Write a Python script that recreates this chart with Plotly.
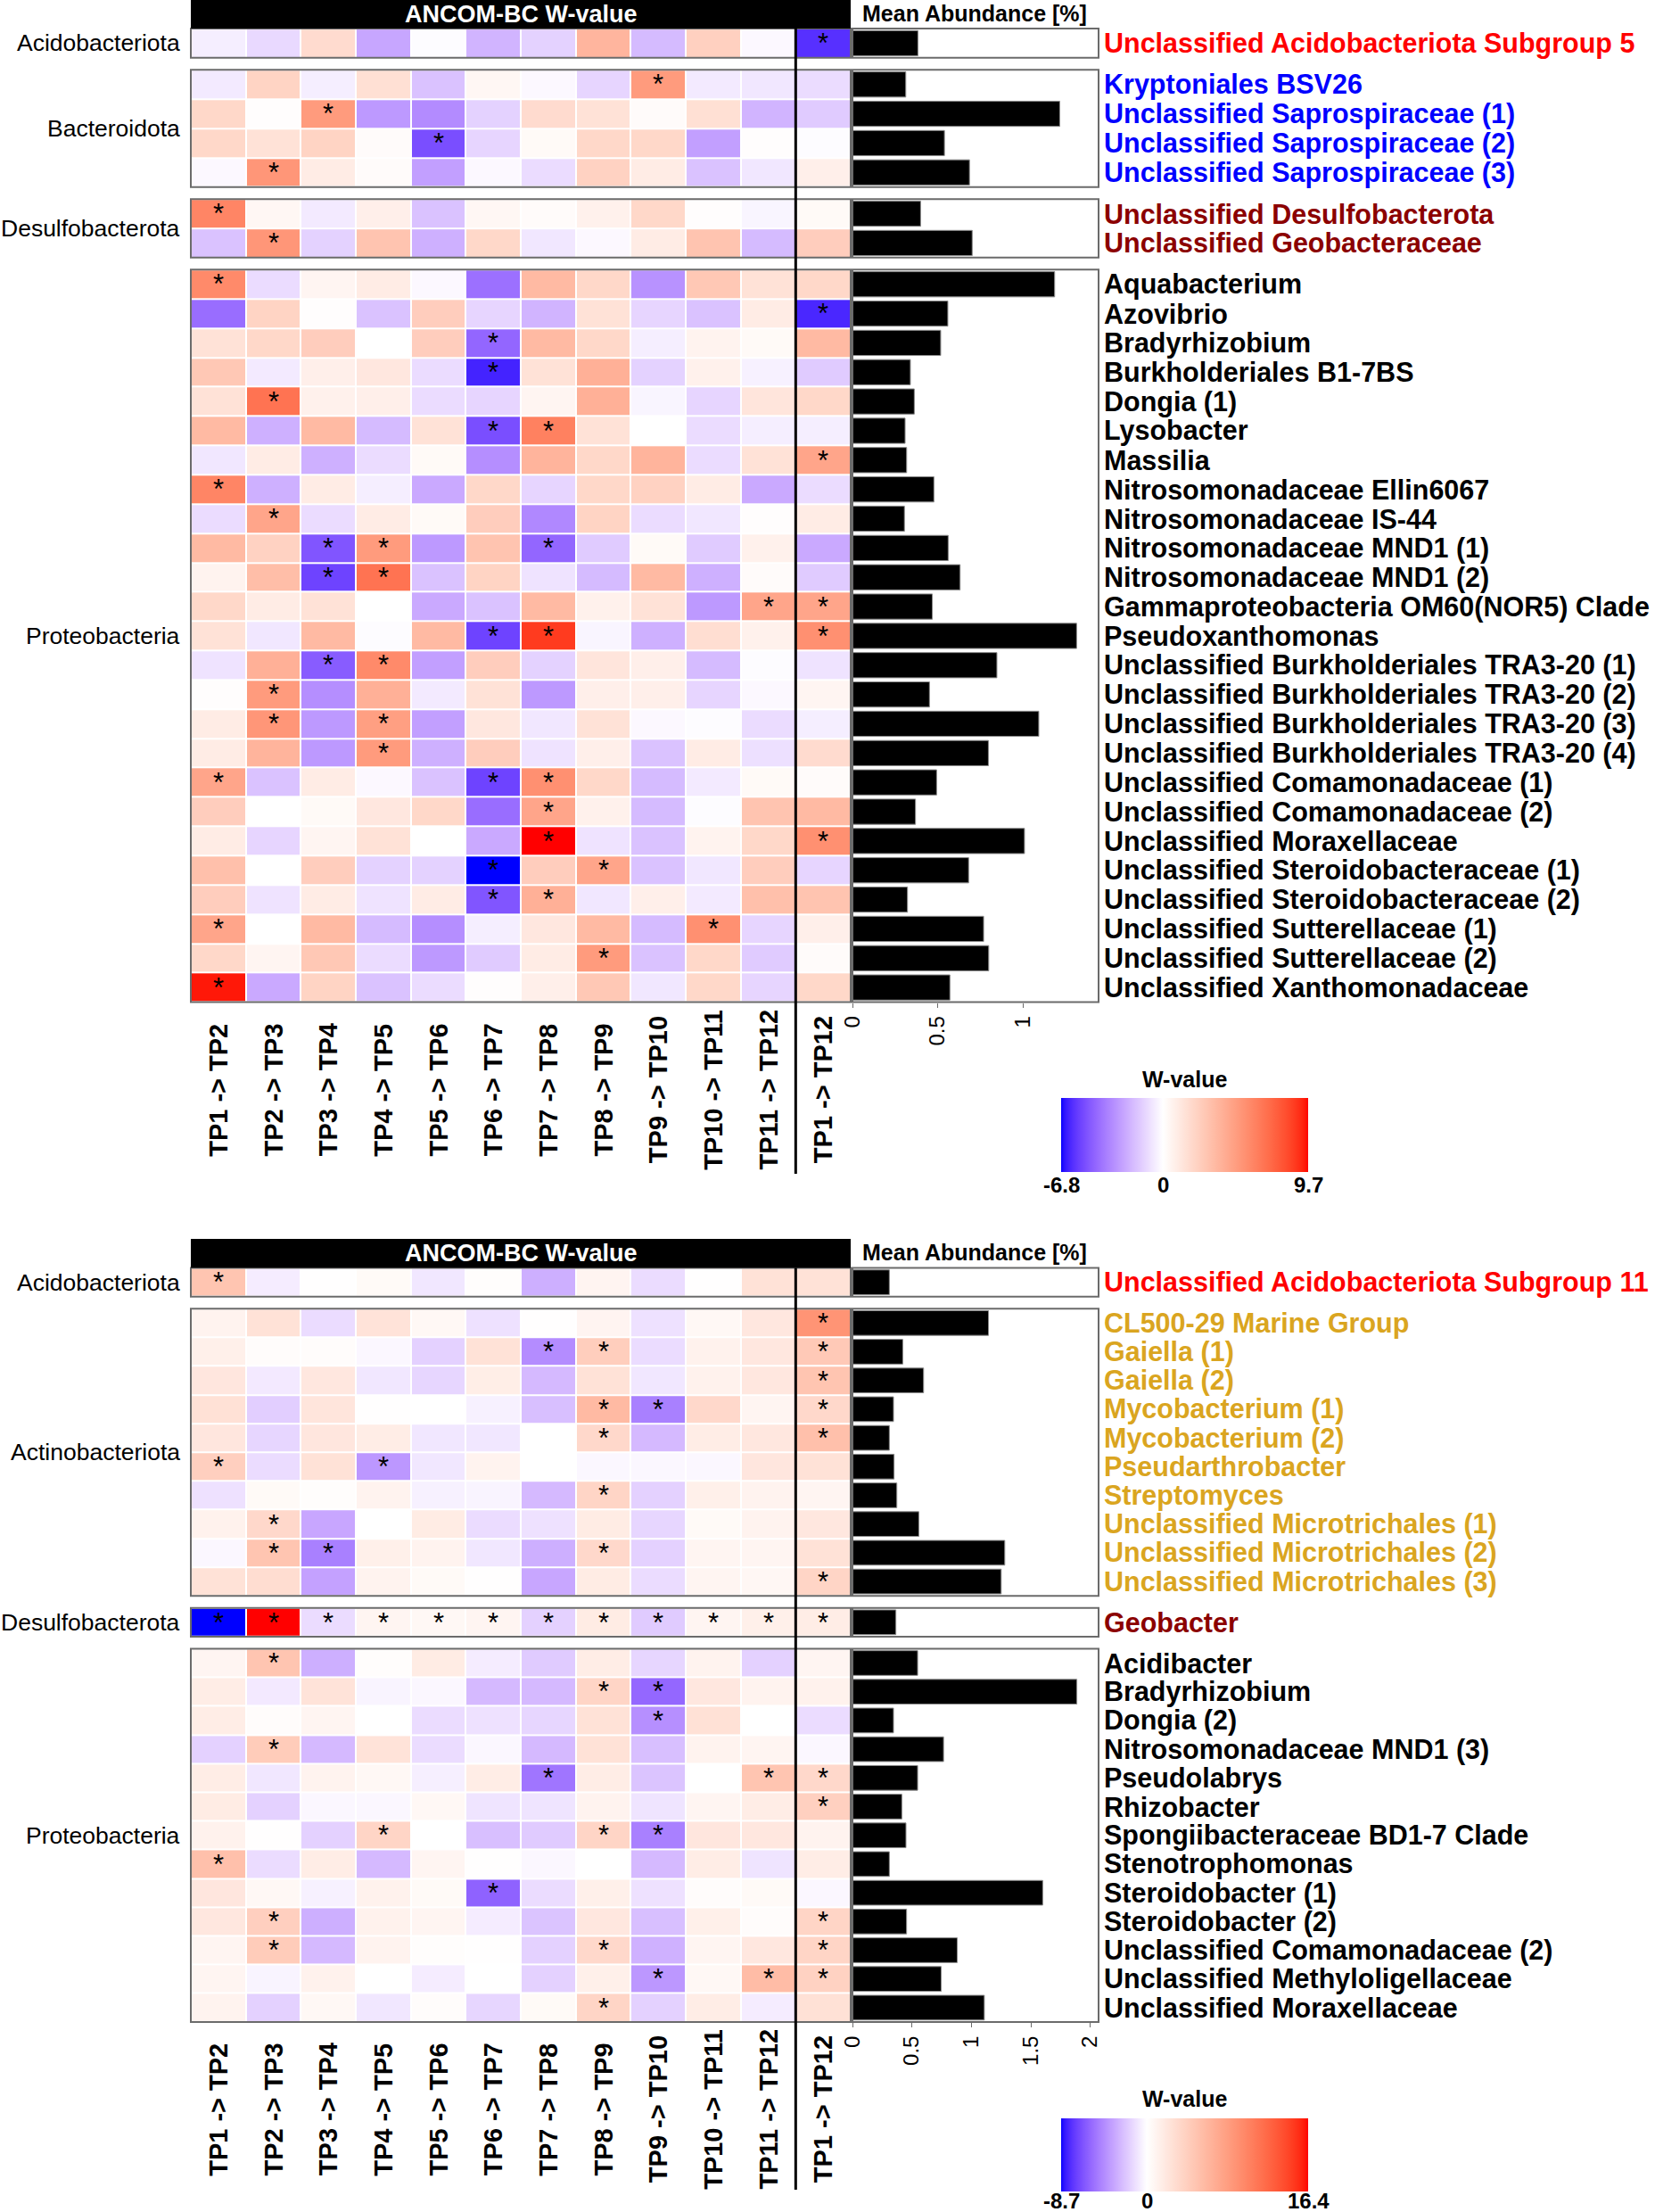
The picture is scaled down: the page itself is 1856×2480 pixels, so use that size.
import numpy as np
import plotly.graph_objects as go

# ---------------------------------------------------------------- data
COLS = ["TP1 -> TP2", "TP2 -> TP3", "TP3 -> TP4", "TP4 -> TP5", "TP5 -> TP6",
        "TP6 -> TP7", "TP7 -> TP8", "TP8 -> TP9", "TP9 -> TP10", "TP10 -> TP11",
        "TP11 -> TP12", "TP1 -> TP12"]

PHYLUM_COLORS = {"Acidobacteriota": "#FF0000", "Bacteroidota": "#0000FF",
                 "Desulfobacterota": "#8B0000", "Proteobacteria": "#000000",
                 "Actinobacteriota": "#DAA520"}

# ---- top panel
TOP_ACIDO_NAMES = ["Unclassified Acidobacteriota Subgroup 5"]
TOP_ACIDO_W = [[-0.5, -1.1, 1.8, -2.6, -0.1, -2.2, -1.3, 3.7, -2.0, 2.4, -0.2, -6.0]]
TOP_ACIDO_SIG = [[11]]
TOP_ACIDO_ABUND = [0.384]

TOP_BACT_NAMES = ["Kryptoniales BSV26", "Unclassified Saprospiraceae (1)",
                  "Unclassified Saprospiraceae (2)", "Unclassified Saprospiraceae (3)"]
TOP_BACT_W = [
    [-0.6, 2.2, -0.5, 1.6, -1.8, 0.4, -0.2, -1.2, 5.0, -0.6, -0.7, -1.0],
    [2.0, 0.1, 5.0, -3.0, -3.4, -1.3, 1.8, 1.5, 0.2, 1.6, -2.2, -1.5],
    [2.0, 1.5, 2.2, 0.2, -5.2, -1.2, 0.3, 2.0, 2.0, -2.8, 0.1, -0.1],
    [-0.2, 5.2, 1.0, 0.2, -2.8, -0.2, -1.0, 2.3, 1.0, -1.8, -0.7, 0.8],
]
TOP_BACT_SIG = [[8], [2], [4], [1]]
TOP_BACT_ABUND = [0.313, 1.217, 0.54, 0.687]

TOP_DESULFO_NAMES = ["Unclassified Desulfobacterota", "Unclassified Geobacteraceae"]
TOP_DESULFO_W = [
    [6.0, 0.4, -0.6, 0.8, -1.8, 0.4, 0.2, 0.7, 2.0, 0.1, -0.3, 0.3],
    [-1.8, 5.2, -1.3, 3.0, -2.3, 2.0, -0.7, -0.2, 1.0, 3.0, -2.0, 2.5],
]
TOP_DESULFO_SIG = [[0], [1]]
TOP_DESULFO_ABUND = [0.40, 0.703]

TOP_PROTEO_NAMES = [
    "Aquabacterium", "Azovibrio", "Bradyrhizobium", "Burkholderiales B1-7BS",
    "Dongia (1)", "Lysobacter", "Massilia", "Nitrosomonadaceae Ellin6067",
    "Nitrosomonadaceae IS-44", "Nitrosomonadaceae MND1 (1)", "Nitrosomonadaceae MND1 (2)",
    "Gammaproteobacteria OM60(NOR5) Clade", "Pseudoxanthomonas",
    "Unclassified Burkholderiales TRA3-20 (1)", "Unclassified Burkholderiales TRA3-20 (2)",
    "Unclassified Burkholderiales TRA3-20 (3)", "Unclassified Burkholderiales TRA3-20 (4)",
    "Unclassified Comamonadaceae (1)", "Unclassified Comamonadaceae (2)",
    "Unclassified Moraxellaceae", "Unclassified Steroidobacteraceae (1)",
    "Unclassified Steroidobacteraceae (2)", "Unclassified Sutterellaceae (1)",
    "Unclassified Sutterellaceae (2)", "Unclassified Xanthomonadaceae"]
TOP_PROTEO_W = [
    [5.8, -1.0, 0.5, 1.0, -0.2, -4.2, 3.5, 2.0, -3.2, 2.8, 1.5, 2.0],
    [-4.3, 2.2, 0.1, -1.8, 2.5, -1.2, -2.2, 1.5, -1.2, -1.8, 1.0, -6.2],
    [1.5, 2.0, 2.5, 0.0, 2.5, -4.5, 3.5, 2.0, -0.5, 0.6, 0.3, 3.5],
    [2.8, -0.6, 0.8, 1.2, -1.0, -6.3, 1.5, 4.0, -1.3, 0.7, -0.4, -1.5],
    [1.5, 6.8, 0.7, 0.8, -1.0, -1.2, 0.5, 4.0, -0.3, -1.2, 1.3, 2.0],
    [3.5, -2.3, 3.5, -2.0, 1.5, -5.2, 6.2, 1.5, 0.0, -1.0, -0.5, -0.5],
    [-0.7, 1.0, -2.3, -1.0, 0.3, -3.3, 3.8, 2.0, 3.8, -1.0, 1.5, 4.5],
    [6.0, -2.3, 1.0, -0.5, -2.5, 2.0, -1.2, 2.0, 2.3, 1.0, -2.5, -1.0],
    [-1.0, 4.5, -1.0, 1.0, 0.3, 2.5, -3.5, 2.2, -1.0, -0.7, 0.1, 1.0],
    [3.5, 2.3, -5.0, 5.0, -3.0, 3.0, -4.5, -1.5, 0.3, -1.5, 0.7, -2.5],
    [0.6, 3.3, -5.5, 6.8, -1.8, 2.2, -0.8, -2.0, 3.5, -2.3, 0.2, -1.5],
    [2.0, 1.0, 1.5, 0.0, -2.5, -1.8, 3.5, 0.7, 1.5, -3.0, 4.5, 4.5],
    [1.5, -0.7, 3.5, -0.1, 3.5, -5.5, 8.8, -0.3, -2.3, 1.7, 0.7, 5.5],
    [-0.8, 4.0, -4.8, 5.8, -2.8, 2.5, -1.3, 1.3, 0.8, -2.0, -0.1, -0.8],
    [0.1, 5.0, -3.3, 4.0, -0.6, 1.5, -3.0, 0.8, 0.8, -1.2, -0.2, 0.5],
    [1.0, 5.2, -3.0, 4.8, -2.8, 1.2, -0.7, 1.5, -0.2, -0.1, -1.0, -0.5],
    [1.0, 3.8, -3.0, 5.0, -2.3, 2.5, -0.8, 0.8, -1.8, 1.0, -0.9, 1.8],
    [4.5, -1.8, 1.0, -0.2, -1.8, -5.5, 5.5, 2.0, -2.0, -0.6, 0.3, 0.2],
    [2.5, 0.0, 0.3, 1.2, 2.0, -4.3, 4.5, 0.7, -2.0, -0.1, 3.0, 3.5],
    [1.0, -1.2, 0.5, 1.5, 0.0, -2.5, 9.7, -0.8, -1.8, 0.6, 2.0, 5.5],
    [3.2, 0.0, 2.5, -1.3, -1.3, -6.8, 2.5, 4.5, -1.8, -0.7, 2.5, -1.2],
    [2.5, -0.8, 1.0, -0.8, 1.0, -5.0, 4.0, -0.7, 0.8, -0.6, 3.2, 3.0],
    [4.5, 0.0, 3.5, -2.0, -3.3, -0.5, 1.2, 3.5, -2.0, 5.5, -1.2, 0.8],
    [2.0, 0.5, 2.8, -1.0, -3.0, -1.5, 1.0, 5.0, -1.8, 2.0, -1.5, 0.2],
    [9.5, -2.5, 2.2, -1.8, -1.0, 0.1, 0.8, 2.8, -0.7, 2.0, -1.2, 2.0],
]
TOP_PROTEO_SIG = [[0], [11], [5], [5], [1], [5, 6], [11], [0], [1], [2, 3, 6], [2, 3],
                  [10, 11], [5, 6, 11], [2, 3], [1], [1, 3], [3], [0, 5, 6], [6],
                  [6, 11], [5, 7], [5, 6], [0, 9], [7], [0]]
TOP_PROTEO_ABUND = [1.187, 0.56, 0.518, 0.34, 0.363, 0.309, 0.318, 0.478, 0.305,
                    0.562, 0.632, 0.469, 1.316, 0.848, 0.452, 1.094, 0.798, 0.494,
                    0.37, 1.01, 0.682, 0.323, 0.77, 0.80, 0.572]

# ---- bottom panel
BOT_ACIDO_NAMES = ["Unclassified Acidobacteriota Subgroup 11"]
BOT_ACIDO_W = [[5.0, -0.7, 0.1, 0.5, -0.9, 0.2, -3.0, 0.9, -1.3, 0.1, 2.5, 2.5]]
BOT_ACIDO_SIG = [[0]]
BOT_ACIDO_ABUND = [0.31]

BOT_ACTINO_NAMES = ["CL500-29 Marine Group", "Gaiella (1)", "Gaiella (2)",
                    "Mycobacterium (1)", "Mycobacterium (2)", "Pseudarthrobacter",
                    "Streptomyces", "Unclassified Microtrichales (1)",
                    "Unclassified Microtrichales (2)", "Unclassified Microtrichales (3)"]
BOT_ACTINO_W = [
    [1.0, 2.5, -1.3, 2.4, 0.6, -1.1, 0.1, 0.9, -1.1, 0.6, 2.0, 9.0],
    [1.3, 0.3, 0.3, -0.3, -1.7, 2.5, -4.3, 4.2, -1.3, 1.1, 2.0, 4.6],
    [2.1, -0.8, 2.0, -0.9, -1.5, 1.5, -2.6, 2.5, -0.9, 1.1, 2.0, 5.0],
    [2.6, -1.8, 2.2, 0.1, 0.0, -0.5, -2.4, 5.9, -4.8, 3.3, 0.8, 3.3],
    [2.1, -1.5, 2.1, 1.6, -0.9, -0.9, 0.0, 3.3, -2.6, 1.6, 2.0, 5.4],
    [4.1, -1.3, 2.5, -3.9, -0.9, 1.0, 0.0, -0.3, -0.3, -0.3, 2.1, 2.5],
    [-1.1, 0.5, 0.2, 1.0, -0.5, -0.4, -2.6, 3.6, -1.7, 1.3, 1.0, 0.8],
    [1.1, 3.3, -3.3, 0.0, 1.7, -1.3, -1.1, 1.7, -1.5, 0.5, 1.0, 2.0],
    [-0.3, 5.0, -4.8, 1.3, 1.0, -0.9, -3.0, 3.3, -1.7, 0.8, 0.8, 2.5],
    [2.5, 2.9, -3.5, 1.0, 0.5, 0.1, -3.3, 1.7, -1.3, 0.8, 0.7, 3.6],
]
BOT_ACTINO_SIG = [[11], [6, 7, 11], [11], [7, 8, 11], [7, 11], [0, 3], [7], [1],
                  [1, 2, 7], [11]]
BOT_ACTINO_ABUND = [1.144, 0.423, 0.598, 0.345, 0.31, 0.35, 0.373, 0.558, 1.281, 1.251]

BOT_DESULFO_NAMES = ["Geobacter"]
BOT_DESULFO_W = [[-8.7, 16.4, -1.3, 0.8, 0.6, 0.8, -1.7, 1.7, -1.9, 0.8, 1.3, 1.6]]
BOT_DESULFO_SIG = [[0, 1, 2, 3, 4, 5, 6, 7, 8, 9, 10, 11]]
BOT_DESULFO_ABUND = [0.365]

BOT_PROTEO_NAMES = ["Acidibacter", "Bradyrhizobium", "Dongia (2)",
                    "Nitrosomonadaceae MND1 (3)", "Pseudolabrys", "Rhizobacter",
                    "Spongiibacteraceae BD1-7 Clade", "Stenotrophomonas",
                    "Steroidobacter (1)", "Steroidobacter (2)",
                    "Unclassified Comamonadaceae (2)", "Unclassified Methyloligellaceae",
                    "Unclassified Moraxellaceae"]
BOT_PROTEO_W = [
    [0.8, 5.0, -3.0, 0.2, 1.7, -0.7, -1.9, 1.6, -1.5, 1.0, -1.7, 0.8],
    [1.6, -0.8, 2.4, -0.4, -0.3, -2.6, -2.6, 3.6, -5.7, 2.0, 1.0, 1.1],
    [1.6, 0.3, 0.8, 0.0, -1.3, -1.1, -1.5, 2.5, -4.2, 2.6, 0.0, -1.3],
    [-1.7, 4.4, -2.6, 2.4, -1.3, -0.3, -2.6, 2.5, -2.4, 1.0, 0.8, -0.3],
    [1.6, -0.9, 1.0, 0.6, -0.6, 1.6, -5.2, 1.6, -2.2, 0.0, 5.0, 3.3],
    [1.7, -1.7, -0.3, -0.3, 0.6, -1.0, -1.0, 1.0, -1.0, 0.8, 1.6, 4.0],
    [1.1, 0.1, -1.7, 3.6, 0.0, -2.4, -1.9, 3.6, -4.8, 2.1, 2.0, 1.0],
    [5.4, -1.3, 1.6, -2.6, 0.8, 0.1, -0.3, 0.0, -2.6, 1.6, -1.0, 1.6],
    [2.1, 0.6, -0.5, 1.1, 0.5, -5.9, -1.3, 1.3, -1.1, 0.3, 0.5, -0.3],
    [2.0, 4.1, -3.0, 1.1, 0.8, -0.7, -2.2, 2.0, -2.4, 1.3, 0.3, 3.6],
    [0.8, 4.4, -2.6, 1.0, 0.2, 0.1, -1.7, 3.3, -2.9, 0.8, 2.0, 3.6],
    [0.8, -0.4, 1.1, 0.0, -0.7, 0.0, -1.7, 1.3, -3.9, 0.6, 5.7, 3.9],
    [1.0, -1.7, 0.6, -0.9, 0.3, -1.5, 0.5, 3.6, -1.7, 1.6, -0.7, 2.6],
]
BOT_PROTEO_SIG = [[1], [7, 8], [8], [1], [6, 10, 11], [11], [3, 7, 8], [0], [5],
                  [1, 11], [1, 7, 11], [8, 10, 11], [7]]
BOT_PROTEO_ABUND = [0.548, 1.887, 0.345, 0.766, 0.548, 0.415, 0.45, 0.31, 1.60,
                    0.455, 0.881, 0.746, 1.109]

BAR_TICKS_TOP = [0, 0.5, 1]
BAR_TICKS_BOT = [0, 0.5, 1, 1.5, 2]

# ---------------------------------------------------------------- colours (LAB ramp)
def _rgb2lab(rgb):
    def lin(c):
        c = c / 255.0
        return c / 12.92 if c <= 0.04045 else ((c + 0.055) / 1.055) ** 2.4
    R, G, B = (lin(c) for c in rgb)
    X = (0.4124 * R + 0.3576 * G + 0.1805 * B) / 0.95047
    Y = (0.2126 * R + 0.7152 * G + 0.0722 * B)
    Z = (0.0193 * R + 0.1192 * G + 0.9505 * B) / 1.08883
    f = lambda t: t ** (1 / 3) if t > 0.008856 else 7.787 * t + 16 / 116
    fx, fy, fz = f(X), f(Y), f(Z)
    return (116 * fy - 16, 500 * (fx - fy), 200 * (fy - fz))


def _lab2rgb(lab):
    L, a, b = lab
    fy = (L + 16) / 116
    fx = fy + a / 500
    fz = fy - b / 200
    finv = lambda t: t ** 3 if t ** 3 > 0.008856 else (t - 16 / 116) / 7.787
    X, Y, Z = 0.95047 * finv(fx), finv(fy), 1.08883 * finv(fz)
    R = 3.2406 * X - 1.5372 * Y - 0.4986 * Z
    G = -0.9689 * X + 1.8758 * Y + 0.0415 * Z
    B = 0.0557 * X - 0.2040 * Y + 1.0570 * Z
    def gam(c):
        c = c * 12.92 if c <= 0.0031308 else 1.055 * c ** (1 / 2.4) - 0.055
        return int(round(min(max(c, 0), 1) * 255))
    return "rgb(%d,%d,%d)" % (gam(R), gam(G), gam(B))


LAB_BLUE = _rgb2lab((0, 0, 255))
LAB_WHITE = _rgb2lab((255, 255, 255))
LAB_RED = _rgb2lab((255, 0, 0))


def lab_colorscale(zmin, zmax, n=60):
    vals = sorted(set(list(np.linspace(zmin, 0, n)) + list(np.linspace(0, zmax, n))))
    cs = []
    for v in vals:
        if v < 0:
            t, end = v / zmin, LAB_BLUE
        else:
            t, end = v / zmax, LAB_RED
        lab = tuple(w + (e - w) * t for w, e in zip(LAB_WHITE, end))
        cs.append([(v - zmin) / (zmax - zmin), _lab2rgb(lab)])
    cs[0][0], cs[-1][0] = 0.0, 1.0
    return cs

# ---------------------------------------------------------------- layout helpers
FONT = "Liberation Sans"
FIG_W, FIG_H = 1856, 2480
def px(x): return x / FIG_W
def py(y): return 1 - y / FIG_H

HEAT_X = (214, 954)
BAR_X = (956, 1232)
LABEL_X = 1237
GROUP_LABEL_X = 203
CBAR_X = (1190, 1467)

panels = [
    dict(groups=[("Acidobacteriota", TOP_ACIDO_NAMES, TOP_ACIDO_W, TOP_ACIDO_SIG, TOP_ACIDO_ABUND),
                 ("Bacteroidota", TOP_BACT_NAMES, TOP_BACT_W, TOP_BACT_SIG, TOP_BACT_ABUND),
                 ("Desulfobacterota", TOP_DESULFO_NAMES, TOP_DESULFO_W, TOP_DESULFO_SIG, TOP_DESULFO_ABUND),
                 ("Proteobacteria", TOP_PROTEO_NAMES, TOP_PROTEO_W, TOP_PROTEO_SIG, TOP_PROTEO_ABUND)],
         top=32.0, row_h=32.85, gap=13.45, header=(0, 32), col_label_y=1222,
         vline_bottom=1316, bar_max=1.445, bar_ticks=BAR_TICKS_TOP,
         cbar_top=1231, cbar_bottom=1314, cbar_title_y=1210, cbar_tick_y=1328),
    dict(groups=[("Acidobacteriota", BOT_ACIDO_NAMES, BOT_ACIDO_W, BOT_ACIDO_SIG, BOT_ACIDO_ABUND),
                 ("Actinobacteriota", BOT_ACTINO_NAMES, BOT_ACTINO_W, BOT_ACTINO_SIG, BOT_ACTINO_ABUND),
                 ("Desulfobacterota", BOT_DESULFO_NAMES, BOT_DESULFO_W, BOT_DESULFO_SIG, BOT_DESULFO_ABUND),
                 ("Proteobacteria", BOT_PROTEO_NAMES, BOT_PROTEO_W, BOT_PROTEO_SIG, BOT_PROTEO_ABUND)],
         top=1421.5, row_h=32.2, gap=13.5, header=(1389, 1421.5), col_label_y=2365,
         vline_bottom=2455, bar_max=2.07, bar_ticks=BAR_TICKS_BOT,
         cbar_top=2375, cbar_bottom=2457, cbar_title_y=2353, cbar_tick_y=2467),
]

fig = go.Figure()
layout = {}
shapes, annotations = [], []
FRAME = dict(color="#6b6b6b", width=2)
BOLD = dict(family=FONT, color="black", weight="bold")

yn = 0
for pi, P in enumerate(panels):
    hx_n, bx_n = 2 * pi + 1, 2 * pi + 2
    hx = "x" if hx_n == 1 else f"x{hx_n}"
    bx = f"x{bx_n}"
    allz = np.concatenate([np.ravel(g[2]) for g in P["groups"]])
    zmin, zmax = float(allz.min()), float(allz.max())
    cs = lab_colorscale(zmin, zmax)

    cursor = P["top"]
    first_y = None
    for gi, (phylum, names, Wm, sig, abund) in enumerate(P["groups"]):
        yn += 1
        ya = "y" if yn == 1 else f"y{yn}"
        yl = "yaxis" if yn == 1 else f"yaxis{yn}"
        n = len(names)
        top_px, bot_px = cursor, cursor + n * P["row_h"]
        cursor = bot_px + P["gap"]
        if first_y is None:
            first_y = top_px
        layout[yl] = dict(domain=[py(bot_px), py(top_px)], anchor=hx, type="category",
                          categoryorder="array", categoryarray=names,
                          range=[n - 0.5, -0.5], showticklabels=False, showgrid=False,
                          zeroline=False, ticks="", showline=False, automargin=False)
        stars = [["*" if j in s else "" for j in range(len(COLS))] for s in sig]
        last = gi == len(P["groups"]) - 1
        hm = go.Heatmap(z=Wm, x=COLS, y=names, text=stars, texttemplate="%{text}",
                        textfont=dict(family=FONT, size=31, color="black"),
                        colorscale=cs, zmin=zmin, zmax=zmax, xgap=2, ygap=2,
                        xaxis=hx, yaxis=ya, showscale=last, hoverinfo="skip")
        if last:
            hm.colorbar = dict(orientation="h", x=px(sum(CBAR_X) / 2), xanchor="center",
                               y=py(P["cbar_top"]), yanchor="top",
                               len=CBAR_X[1] - CBAR_X[0], lenmode="pixels",
                               thickness=P["cbar_bottom"] - P["cbar_top"], thicknessmode="pixels",
                               outlinewidth=0, xpad=0, ypad=0, ticks="",
                               showticklabels=False)
        fig.add_trace(hm)
        fig.add_trace(go.Bar(x=abund, y=names, orientation="h", xaxis=bx, yaxis=ya,
                             marker=dict(color="black", line=dict(color="#8a8a8a", width=1)),
                             width=0.86, hoverinfo="skip"))
        for ax in (hx, bx):
            shapes.append(dict(type="rect", xref=f"{ax} domain", yref=f"{ya} domain",
                               x0=0, x1=1, y0=0, y1=1, line=FRAME, layer="above"))
        annotations.append(dict(text=phylum, xref="paper", x=px(GROUP_LABEL_X), xanchor="right",
                                yref=f"{ya} domain", y=0.5, yanchor="middle", showarrow=False,
                                borderpad=0,
                                font=dict(family=FONT, size=26.5, color="black")))
        for nm in names:
            annotations.append(dict(text=nm, xref="paper", x=px(LABEL_X), xanchor="left",
                                    yref=ya, y=nm, yanchor="middle", showarrow=False,
                                    borderpad=0,
                                    font=dict(family=FONT, size=30.5, weight="bold",
                                              color=PHYLUM_COLORS[phylum])))
    last_ya = ya
    hxl = "xaxis" if hx_n == 1 else f"xaxis{hx_n}"
    layout[hxl] = dict(domain=[px(HEAT_X[0]), px(HEAT_X[1])], anchor=last_ya,
                       type="category", range=[-0.5, len(COLS) - 0.5],
                       showticklabels=False, ticks="", showgrid=False, zeroline=False,
                       automargin=False)
    layout[f"xaxis{bx_n}"] = dict(domain=[px(BAR_X[0]), px(BAR_X[1])], anchor=last_ya,
                                  range=[0, P["bar_max"]], tickvals=P["bar_ticks"],
                                  ticktext=[f"{t:g}" for t in P["bar_ticks"]],
                                  tickangle=-90, ticks="outside", ticklen=5,
                                  tickcolor="#6b6b6b", automargin=False,
                                  tickfont=dict(family=FONT, size=24, color="black"),
                                  showgrid=False, zeroline=False, showline=False)
    h0, h1 = P["header"]
    shapes.append(dict(type="rect", xref=f"{hx} domain", x0=0, x1=1, yref="paper",
                       y0=py(h1), y1=py(h0), fillcolor="black", line=dict(width=0)))
    annotations.append(dict(text="ANCOM-BC W-value", xref=f"{hx} domain", x=0.5,
                            xanchor="center", yref="paper", y=py((h0 + h1) / 2),
                            yanchor="middle", showarrow=False, borderpad=0,
                            font=dict(family=FONT, size=27, color="white", weight="bold")))
    annotations.append(dict(text="Mean Abundance [%]", xref="paper", x=px(966),
                            xanchor="left", yref="paper", y=py((h0 + h1) / 2 - 1),
                            yanchor="middle", showarrow=False, borderpad=0,
                            font=dict(size=25, **BOLD)))
    shapes.append(dict(type="line", xref=hx, x0=len(COLS) - 1.5, x1=len(COLS) - 1.5,
                       yref="paper", y0=py(first_y), y1=py(P["vline_bottom"]),
                       line=dict(color="black", width=3), layer="above"))
    for c in COLS:
        annotations.append(dict(text=c, xref=hx, x=c, yref="paper", y=py(P["col_label_y"]),
                                xanchor="center", yanchor="middle", textangle=-90,
                                showarrow=False, font=dict(size=29, **BOLD)))
    annotations.append(dict(text="W-value", xref="paper", x=px(sum(CBAR_X) / 2),
                            xanchor="center", yref="paper", y=py(P["cbar_title_y"]),
                            yanchor="middle", showarrow=False, font=dict(size=25, **BOLD)))
    for v in (zmin, 0.0, zmax):
        xv = CBAR_X[0] + (v - zmin) / (zmax - zmin) * (CBAR_X[1] - CBAR_X[0])
        annotations.append(dict(text=f"{v:g}", xref="paper", x=px(xv), xanchor="center",
                                yref="paper", y=py(P["cbar_tick_y"]), yanchor="middle",
                                showarrow=False, font=dict(size=24, **BOLD)))

fig.update_layout(width=FIG_W, height=FIG_H,
                  margin=dict(l=0, r=0, t=0, b=0, pad=0, autoexpand=False),
                  paper_bgcolor="white", plot_bgcolor="white", showlegend=False,
                  bargap=0.1, shapes=shapes, annotations=annotations, **layout)
fig.write_html("out.html", config={"displayModeBar": False},
               post_script="document.body.style.margin='0';document.body.style.padding='0';")
